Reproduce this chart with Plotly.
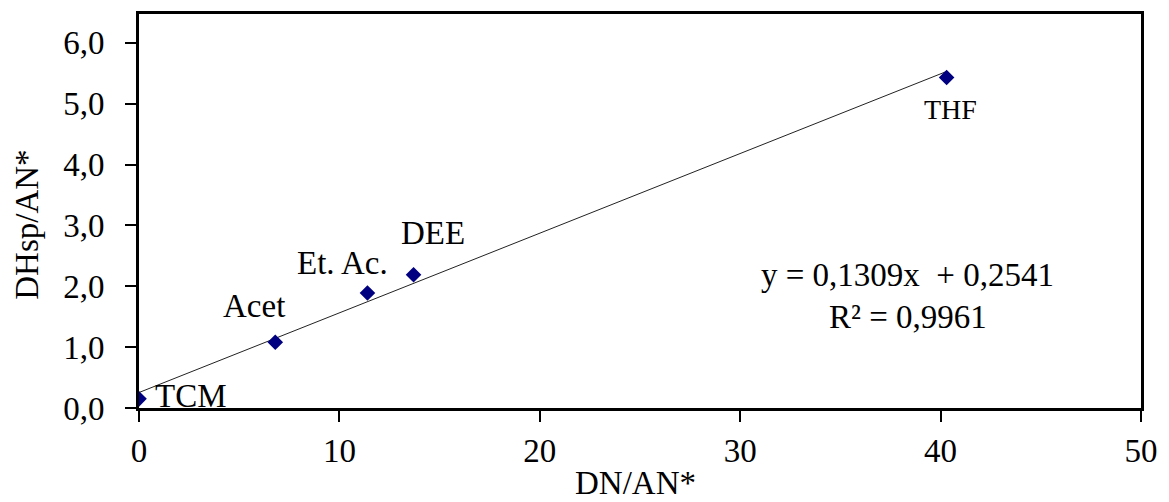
import plotly.graph_objects as go

solvents = ["TCM", "Acet", "Et. Ac.", "DEE", "THF"]
dn_an = [0.0, 6.8, 11.4, 13.7, 40.3]
dhsp_an = [0.15, 1.08, 1.89, 2.19, 5.43]
slope = 0.1309
intercept = 0.2541
fit_x = [0.0, 40.3]
fit_y = [slope * v + intercept for v in fit_x]
x_ticks = [0, 10, 20, 30, 40, 50]
y_ticks = [0, 1, 2, 3, 4, 5, 6]
y_tick_labels = ["0,0", "1,0", "2,0", "3,0", "4,0", "5,0", "6,0"]

FONT = "Liberation Serif"
FS = 33

fig = go.Figure()
fig.add_trace(go.Scatter(x=fit_x, y=fit_y, mode="lines",
                         line=dict(color="#222222", width=1), showlegend=False))
fig.add_trace(go.Scatter(x=dn_an, y=dhsp_an, mode="markers",
                         marker=dict(symbol="diamond", color="#000080", size=12),
                         showlegend=False))

# (xshift, yshift, font size) in pixels relative to each point
label_shift = {
    "TCM": (52, 3, FS),
    "Acet": (-21, 36, FS),
    "Et. Ac.": (-25, 30, FS),
    "DEE": (19, 42, FS),
    "THF": (4, -32, 28),
}
for name, x, y in zip(solvents, dn_an, dhsp_an):
    sx, sy, fs = label_shift[name]
    fig.add_annotation(x=x, y=y, text=name, showarrow=False, xshift=sx, yshift=sy,
                       font=dict(family=FONT, size=fs, color="black"))

fig.add_annotation(x=38.36, y=2.18, text="y = 0,1309x  + 0,2541", showarrow=False,
                   font=dict(family=FONT, size=FS, color="black"))
fig.add_annotation(x=38.36, y=1.5, text="R² = 0,9961", showarrow=False,
                   font=dict(family=FONT, size=FS, color="black"))

# axis titles
fig.add_annotation(xref="paper", yref="paper", x=0.4955, y=-0.19, text="DN/AN*",
                   showarrow=False, xanchor="center", yanchor="middle",
                   font=dict(family=FONT, size=FS, color="black"))
fig.add_annotation(xref="paper", yref="paper", x=-0.1114, y=0.466, text="DHsp/AN*",
                   showarrow=False, xanchor="center", yanchor="middle", textangle=-90,
                   font=dict(family=FONT, size=FS, color="black"))

fig.update_layout(
    width=1169, height=502,
    margin=dict(l=139, r=25, t=11, b=94),
    paper_bgcolor="white", plot_bgcolor="white",
    font=dict(family=FONT, size=FS, color="black"),
)
fig.update_xaxes(range=[0, 50], tickvals=x_ticks, ticks="outside", ticklen=11,
                 tickwidth=1.5, tickcolor="black", showgrid=False, zeroline=False,
                 showline=True, linecolor="black", linewidth=3, mirror=True,
                 tickfont=dict(family=FONT, size=FS, color="black"))
fig.update_yaxes(range=[0, 6.473], tickvals=y_ticks, ticktext=y_tick_labels,
                 ticks="outside", ticklen=11, tickwidth=1.5, tickcolor="black",
                 showgrid=False, zeroline=False, showline=True, linecolor="black",
                 linewidth=3, mirror=True, ticklabelstandoff=14,
                 tickfont=dict(family=FONT, size=FS, color="black"))

fig.write_html("out.html")
